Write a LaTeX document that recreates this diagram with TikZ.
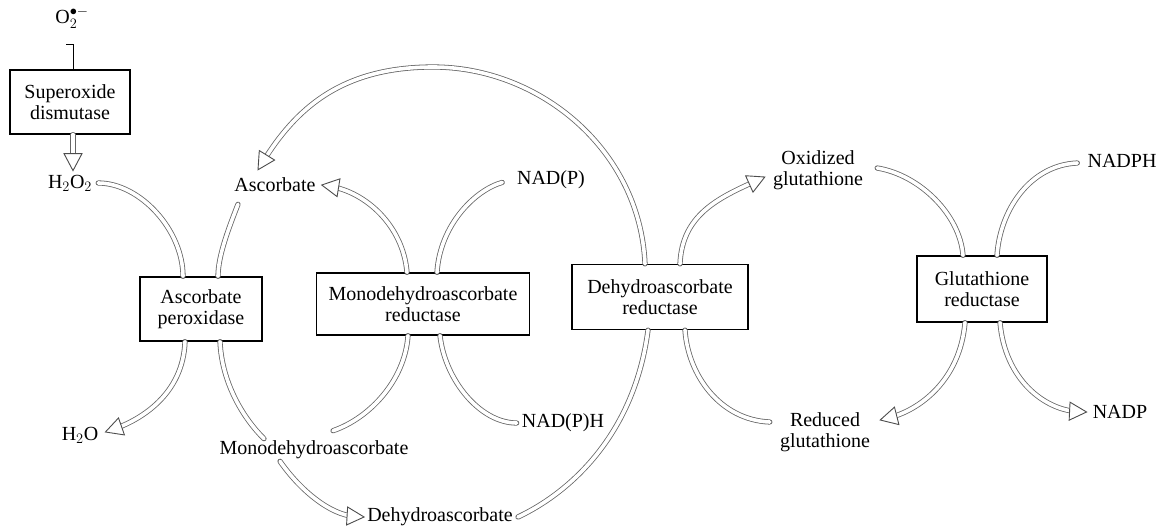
\documentclass[tikz,border=0pt]{standalone}
\usepackage{fontspec}
\setmainfont{Liberation Serif}
\usetikzlibrary{calc,decorations.markings}

\tikzset{
  enzyme/.style={draw=black, line width=1.2pt, fill=white, align=center,
    inner sep=0pt, font=\fontsize{20}{20.5}\selectfont},
  species/.style={align=center, inner sep=2pt, font=\fontsize{20}{20.5}\selectfont},
  shaft/.style={draw=black!60, line width=0.8pt, double=white,
    double distance=3.6pt, line cap=round},
  headmark/.style={postaction={decorate, decoration={markings,
    mark=at position 1 with {\draw[black!70, line width=0.9pt, fill=white,
      line join=miter] (0,0) -- (-17,9) -- (-17,-9) -- cycle;}}}},
}
% hollow flux line without a head, and with an open triangular head
\newcommand\hollowflow[1]{\draw[shaft] #1;}
\newcommand\hollowarrow[1]{\draw[shaft, shorten >=9pt] #1; \path[headmark] #1;}

\begin{document}
\begin{tikzpicture}[x=1pt, y=-1pt]
\useasboundingbox (0,0) rectangle (1160,530);

% enzymes
\node[enzyme, minimum width=120, minimum height=64] (sod) at (70,102) {Superoxide\\dismutase};
\node[enzyme, minimum width=122, minimum height=64] (apx) at (201,309) {Ascorbate\\peroxidase};
\node[enzyme, minimum width=213, minimum height=62] (mdhar) at (423,304) {Monodehydroascorbate\\reductase};
\node[enzyme, minimum width=176, minimum height=65] (dhar) at (660,297) {Dehydroascorbate\\reductase};
\node[enzyme, minimum width=130, minimum height=66] (gr) at (982,289) {Glutathione\\reductase};

% metabolites
\node[species] (o2) at (72,18) {O$_2^{\bullet-}$};
\node[species] (h2o2) at (70,183) {H$_2$O$_2$};
\node[species] (asc) at (275,185) {Ascorbate};
\node[species] (h2o) at (80,435) {H$_2$O};
\node[species] (mdha) at (314,450) {Monodehydroascorbate};
\node[species] (dha) at (440,517) {Dehydroascorbate};
\node[species] (nadp1) at (551,180) {NAD(P)};
\node[species] (nadph1) at (563,423) {NAD(P)H};
\node[species] (oxg) at (818,170) {Oxidized\\glutathione};
\node[species] (redg) at (825,432) {Reduced\\glutathione};
\node[species] (nadph2) at (1122,161) {NADPH};
\node[species] (nadp2) at (1120,412) {NADP};

% superoxide dismutase
\draw[line width=0.8pt] ($(o2.south)+(-6,14)$) -- ($(o2.south)+(1,14)$) -- ($(sod.north)+(3,0)$);
\hollowarrow{($(sod.south)+(3,0)$) -- ($(h2o2.north)+(3,-2)$)}

% ascorbate peroxidase
\hollowflow{($(h2o2.east)+(4,0)$) .. controls (140,183) and (183,230) .. ($(apx.north)+(-18,0)$)}
\hollowflow{($(asc.south)+(-37,10)$) .. controls (230,225) and (218,255) .. ($(apx.north)+(17,0)$)}
\hollowarrow{($(apx.south)+(-16,0)$) .. controls (183,395) and (140,420) .. ($(h2o.east)+(5,-3)$)}
\hollowflow{($(apx.south)+(19,0)$) .. controls (222,385) and (245,420) .. ($(mdha.north)+(-50,0)$)}
\hollowarrow{($(mdha.south)+(-34,0)$) .. controls (300,490) and (330,515) .. ($(dha.west)+(-1,0)$)}

% monodehydroascorbate reductase
\hollowflow{($(mdha.north)+(19,-8)$) .. controls (370,418) and (405,380) .. ($(mdhar.south)+(-15,0)$)}
\hollowarrow{($(mdhar.north)+(-16,0)$) .. controls (403,225) and (365,192) .. ($(asc.east)+(4,0)$)}
\hollowarrow{($(mdhar.north)+(14,0)$) .. controls (440,225) and (475,190) .. ($(nadp1.west)+(-4,0)$)}
\hollowflow{($(nadph1.west)+(-3,0)$) .. controls (480,423) and (445,380) .. ($(mdhar.south)+(17,0)$)}

% dehydroascorbate reductase
\hollowflow{($(dha.east)+(3,0)$) .. controls (575,490) and (635,430) .. ($(dhar.south)+(-12,0)$)}
\hollowarrow{($(dhar.north)+(-15,0)$) .. controls (640,150) and (540,67) .. (433,67)
  .. controls (340,67) and (295,110) .. ($(asc.north)+(-17,-6)$)}
\hollowarrow{($(dhar.north)+(20,0)$) .. controls (682,215) and (718,198) .. ($(oxg.west)+(-6,7)$)}
\hollowflow{($(redg.west)+(-8,-10)$) .. controls (720,420) and (688,375) .. ($(dhar.south)+(25,0)$)}

% glutathione reductase
\hollowflow{($(oxg.east)+(12,-2)$) .. controls (920,175) and (960,215) .. ($(gr.north)+(-19,0)$)}
\hollowflow{($(nadph2.west)+(-8,2)$) .. controls (1030,165) and (1000,210) .. ($(gr.north)+(15,0)$)}
\hollowarrow{($(gr.south)+(-17,0)$) .. controls (960,380) and (920,410) .. ($(redg.east)+(8,-12)$)}
\hollowarrow{($(gr.south)+(18,0)$) .. controls (1005,380) and (1045,410) .. ($(nadp2.west)+(-4,0)$)}
\end{tikzpicture}
\end{document}
